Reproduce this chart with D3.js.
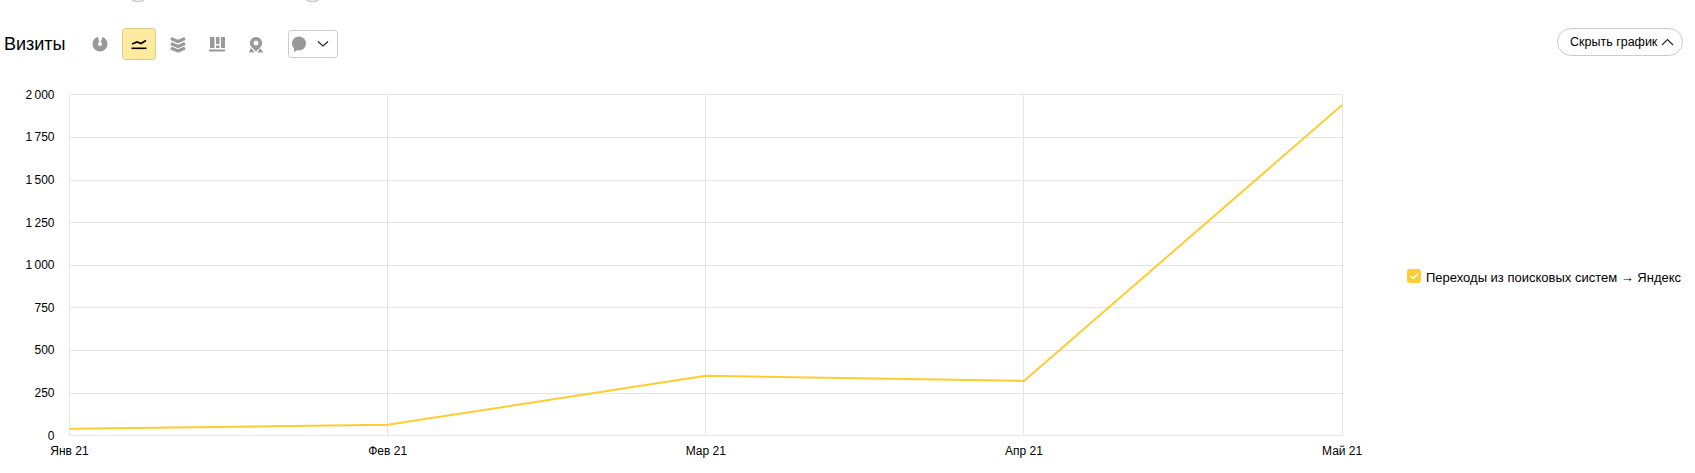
<!DOCTYPE html>
<html>
<head>
<meta charset="utf-8">
<script src="https://cdn.jsdelivr.net/npm/d3@7"></script>
<style>
  html, body { margin: 0; padding: 0; background: #fff; overflow: hidden; }
  text { font-family: "Liberation Sans", Arial, sans-serif; fill: #000; }
  .grid line { stroke: #e5e5e5; stroke-width: 1; shape-rendering: crispEdges; }
  .icon { fill: #999; stroke: none; }
  .icon-line { fill: none; stroke: #999; }
</style>
</head>
<body>
<div id="chart"></div>
<script>
const months = ['Янв 21', 'Фев 21', 'Мар 21', 'Апр 21', 'Май 21'];
const visits = [41, 65, 352, 322, 1940];
const yTicks = [0, 250, 500, 750, 1000, 1250, 1500, 1750, 2000];
const tickLabels = ['0', '250', '500', '750', '1\u2009000', '1\u2009250', '1\u2009500', '1\u2009750', '2\u2009000'];
const seriesName = 'Переходы из поисковых систем → Яндекс';

const width = 1695, height = 473;
const plot = { left: 69.5, right: 1342.1, top: 94.8, bottom: 435.8 };

const svg = d3.select('#chart').append('svg')
  .attr('width', width)
  .attr('height', height)
  .style('display', 'block');

const xScale = d3.scalePoint().domain(months).range([plot.left, plot.right]);
const yScale = d3.scaleLinear().domain([0, 2000]).range([plot.bottom, plot.top]);

// grid
const yAxis = d3.axisLeft(yScale).tickValues(yTicks)
  .tickSize(plot.left - plot.right).offset(0)
  .tickFormat((d, i) => tickLabels[i]);
const xAxis = d3.axisBottom(xScale)
  .tickSize(plot.top - plot.bottom).offset(0);

const yG = svg.append('g').attr('class', 'grid')
  .attr('transform', 'translate(' + plot.left + ',0)').call(yAxis);
const xG = svg.append('g').attr('class', 'grid')
  .attr('transform', 'translate(0,' + plot.bottom + ')').call(xAxis);

yG.select('.domain').remove();
xG.select('.domain').remove();
yG.selectAll('text').attr('font-size', 12).attr('x', -15).style('font-family', '"Liberation Sans"');
xG.selectAll('text').attr('font-size', 12).attr('y', 15.5).attr('dy', '0.32em').style('font-family', '"Liberation Sans"');

// series line
const line = d3.line()
  .x((d, i) => xScale(months[i]))
  .y(d => yScale(d));
svg.append('path').datum(visits)
  .attr('d', line)
  .attr('fill', 'none')
  .attr('stroke', '#ffcc33')
  .attr('stroke-width', 2)
  .attr('stroke-linejoin', 'round');

// header
svg.append('text').attr('x', 4).attr('y', 50).attr('font-size', 18).text('Визиты');

// chart type buttons
svg.append('rect').attr('x', 122.5).attr('y', 28.5).attr('width', 33).attr('height', 31).attr('rx', 3)
  .attr('fill', '#ffeba0').attr('stroke', '#d9c98a');
svg.append('path').attr('d', 'M132 44 l5 -2 l4 1.5 l5 -3').attr('fill', 'none').attr('stroke', '#000').attr('stroke-width', 1.8);
svg.append('rect').attr('x', 131.5).attr('y', 47.5).attr('width', 15).attr('height', 1.6).attr('fill', '#000');

// pie icon
svg.append('path').attr('class', 'icon')
  .attr('d', d3.arc().innerRadius(2).outerRadius(7.5).startAngle(0.35).endAngle(6.0)())
  .attr('transform', 'translate(100,44)');
// stacked area icon
[39.5, 44.5, 49].forEach(y => {
  svg.append('path').attr('class', 'icon-line').attr('stroke-width', 3)
    .attr('d', 'M171 ' + (y - 1) + ' l7 3 l7 -3');
});
// bars icon
svg.append('path').attr('class', 'icon').attr('d', 'M210 37 h4.5 v11 h-4.5 z M216 37 h3.5 v7 h-3.5 z M216 45.5 h3.5 v2.5 h-3.5 z M221 37 h4 v11 h-4 z M209 49.5 h16 v2 h-16 z');
// map icon
svg.append('path').attr('class', 'icon').attr('fill-rule', 'evenodd').attr('d', 'M256 37 a6 6 0 0 1 4.5 10 l-4.5 4.5 l-4.5 -4.5 a6 6 0 0 1 4.5 -10 z M256 40.5 a2.5 2.5 0 1 0 0.01 0 z M251 48 l3 3.5 l-1 1 h-4 z M260 48 l3.5 4.5 h-6 z');

// comment dropdown
svg.append('rect').attr('x', 288.5).attr('y', 30.5).attr('width', 49).attr('height', 27).attr('rx', 3)
  .attr('fill', '#fff').attr('stroke', '#ccc');
svg.append('circle').attr('class', 'icon').attr('cx', 299).attr('cy', 43.5).attr('r', 7);
svg.append('path').attr('class', 'icon').attr('d', 'M294 47 l0 5 l5 -3 z');
svg.append('path').attr('d', 'M318 41.5 l5 4.5 l5 -4.5').attr('fill', 'none').attr('stroke', '#222').attr('stroke-width', 1.1);

// hide chart button
svg.append('rect').attr('x', 1557.5).attr('y', 28.5).attr('width', 125).attr('height', 27).attr('rx', 13.5)
  .attr('fill', '#fff').attr('stroke', '#ccc');
svg.append('text').attr('x', 1570).attr('y', 46).attr('font-size', 12.5).text('Скрыть график');
svg.append('path').attr('d', 'M1662 45 l5.5 -5.5 l5.5 5.5').attr('fill', 'none').attr('stroke', '#222').attr('stroke-width', 1.1);

// legend
svg.append('rect').attr('x', 1407).attr('y', 269).attr('width', 14).attr('height', 14).attr('rx', 3).attr('fill', '#ffcc33');
svg.append('path').attr('d', 'M1410.5 276 l2.5 2.5 l5 -5').attr('fill', 'none').attr('stroke', '#fff').attr('stroke-width', 1.5);
svg.append('text').attr('x', 1426).attr('y', 282).attr('font-size', 13).text(seriesName);

// arcs cut off by the top edge
[138, 312.5].forEach(cx => {
  svg.append('path').attr('d', 'M' + (cx - 6) + ' 0 q6 3 12 0').attr('fill', 'none').attr('stroke', '#ccc').attr('stroke-width', 1.5);
});
</script>
</body>
</html>
